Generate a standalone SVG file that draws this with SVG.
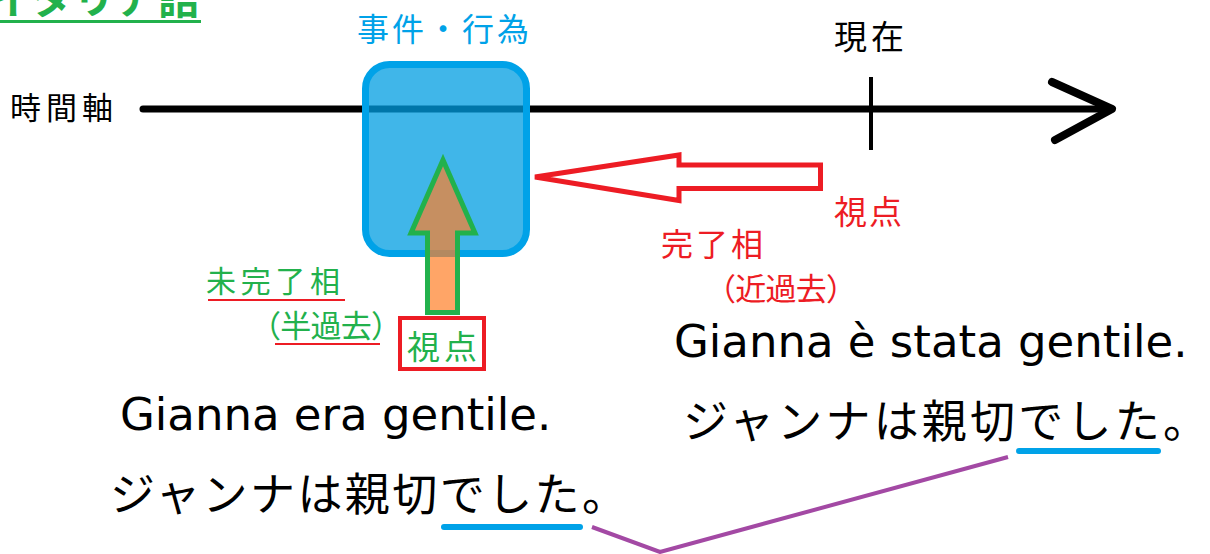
<svg xmlns="http://www.w3.org/2000/svg" width="1210" height="554" viewBox="0 0 1210 554">
  <style>
    .jp { font-family: "Noto Sans CJK JP", "Noto Sans", sans-serif; }
    .lat { font-family: "DejaVu Sans", "Noto Sans", sans-serif; font-size: 45px; fill: #000; }
    .green { fill: #22b14c; }
    .red { fill: #ed1c24; }
    .blue { fill: #00a2e8; }
    .black { fill: #000; }
    .blueline { stroke: #00a2e8; stroke-width: 6; stroke-linecap: round; fill: none; }
    .redline { stroke: #ed1c24; stroke-width: 2; fill: none; }
  </style>
  <rect x="0" y="0" width="1210" height="554" fill="#ffffff"/>

  <g id="title">
    <text class="jp green" x="-10" y="14" font-size="42" font-weight="bold" textLength="210" lengthAdjust="spacing">イタリア語</text>
    <line x1="0" y1="21.5" x2="201" y2="21.5" stroke="#22b14c" stroke-width="3"/>
  </g>

  <g id="connectors">
    <line x1="143" y1="109" x2="1110" y2="109" stroke="#000" stroke-width="7" stroke-linecap="round"/>
    <polyline points="1052,82 1112,109 1055,140" fill="none" stroke="#000" stroke-width="8" stroke-linecap="round" stroke-linejoin="round"/>
    <line x1="871" y1="77" x2="871" y2="150" stroke="#000" stroke-width="4"/>
    <polyline points="592,527 660,552 1008,457" fill="none" stroke="#a349a4" stroke-width="4" stroke-linejoin="miter"/>
  </g>

  <g id="axis-label">
    <text class="jp black" x="10" y="119" font-size="31" textLength="103" lengthAdjust="spacing">時間軸</text>
  </g>

  <g id="now">
    <text class="jp black" x="834" y="49" font-size="33" textLength="70" lengthAdjust="spacing">現在</text>
  </g>

  <g id="event">
    <text class="jp blue" x="357" y="41" font-size="32" textLength="172" lengthAdjust="spacing">事件・行為</text>
    <rect x="365.5" y="64.5" width="161" height="189" rx="24" ry="24" fill="#009ee2" fill-opacity="0.75" stroke="#00a2e8" stroke-width="7"/>
  </g>

  <g id="imperfect-arrow">
    <polygon points="443,160 475,233 457.5,233 457.5,312.5 427.5,312.5 427.5,233 411,233" fill="#ff7f27" fill-opacity="0.7" stroke="#22b14c" stroke-width="5" stroke-linejoin="miter"/>
  </g>

  <g id="viewpoint-imperfect">
    <rect x="400" y="318" width="84" height="51" fill="#ffffff" stroke="#ed1c24" stroke-width="4"/>
    <text class="jp green" x="407" y="359" font-size="33" textLength="70" lengthAdjust="spacing">視点</text>
  </g>

  <g id="imperfect-label">
    <text class="jp green" x="206" y="292" font-size="30" textLength="134" lengthAdjust="spacing">未完了相</text>
    <line class="redline" x1="208" y1="300" x2="345" y2="300"/>
    <text class="jp green" x="250" y="337" font-size="31" textLength="152" lengthAdjust="spacing">（半過去）</text>
    <line class="redline" x1="275" y1="344" x2="380" y2="344"/>
  </g>

  <g id="perfect-arrow">
    <polygon points="535,177 679,155 679,165 820.5,165 820.5,188.5 679,188.5 679,200.5" fill="#ffffff" stroke="#ed1c24" stroke-width="5" stroke-linejoin="miter"/>
  </g>

  <g id="viewpoint-perfect">
    <text class="jp red" x="834" y="224" font-size="33" textLength="68" lengthAdjust="spacing">視点</text>
  </g>

  <g id="perfect-label">
    <text class="jp red" x="661" y="256" font-size="32" textLength="102" lengthAdjust="spacing">完了相</text>
    <text class="jp red" x="705" y="300" font-size="31" textLength="152" lengthAdjust="spacing">（近過去）</text>
  </g>

  <g id="sentence-imperfect">
    <text class="lat" x="120" y="430">Gianna era gentile.</text>
    <text class="jp black" x="110" y="511" font-size="45" textLength="517" lengthAdjust="spacing">ジャンナは親切でした。</text>
    <line class="blueline" x1="444" y1="527" x2="580" y2="527"/>
  </g>

  <g id="sentence-perfect">
    <text class="lat" x="674" y="357">Gianna è stata gentile.</text>
    <text class="jp black" x="683" y="438" font-size="45" textLength="525" lengthAdjust="spacing">ジャンナは親切でした。</text>
    <line class="blueline" x1="1019" y1="451" x2="1158" y2="451"/>
  </g>
</svg>
